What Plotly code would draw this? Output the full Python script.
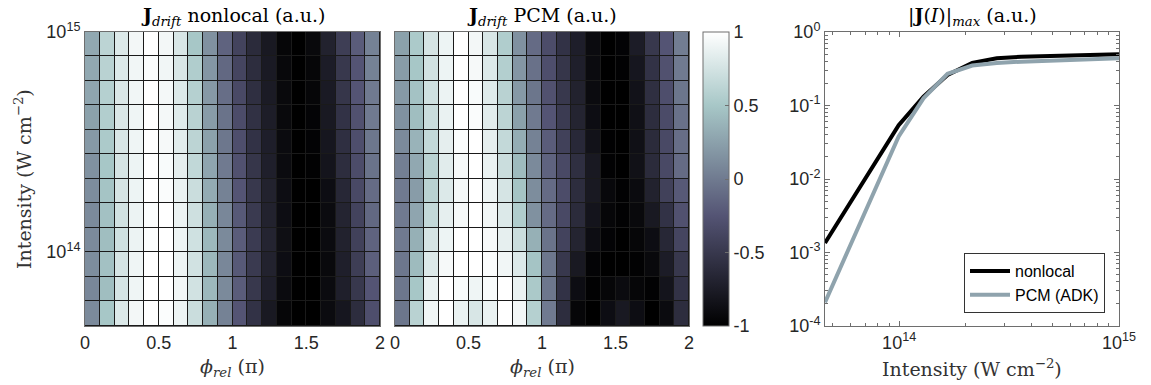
import numpy as np
import plotly.graph_objects as go

# ---------------- data ----------------
# relative phase cell edges (units of pi)
phi_edges = [0.0, 0.1, 0.2, 0.3, 0.4, 0.5, 0.6, 0.7, 0.8, 0.9, 1.0,
             1.1, 1.2, 1.3, 1.4, 1.5, 1.6, 1.7, 1.8, 1.9, 2.0]
# laser intensity grid (W cm^-2)
intensity = [4.6e13, 5.95e13, 7.7e13, 9.95e13, 1.29e14, 1.66e14, 2.15e14,
             2.78e14, 3.59e14, 4.64e14, 6.0e14, 7.75e14, 1.0e15]

# drift current, nonlocal model; rows listed from highest to lowest intensity
j_nonlocal_rows = [
    [0.30, 0.62, 0.80, 0.93, 1.00, 0.93, 0.78, 0.50, 0.15, -0.15, -0.40, -0.62, -0.78, -0.95, -1.00, -0.92, -0.70, -0.45, -0.20, 0.05],
    [0.30, 0.60, 0.80, 0.92, 0.97, 0.92, 0.78, 0.55, 0.18, -0.12, -0.38, -0.60, -0.77, -0.93, -1.00, -0.95, -0.75, -0.50, -0.25, 0.05],
    [0.28, 0.58, 0.79, 0.92, 1.00, 0.94, 0.80, 0.58, 0.20, -0.08, -0.35, -0.58, -0.76, -0.92, -1.00, -0.95, -0.77, -0.52, -0.25, 0.00],
    [0.25, 0.56, 0.79, 0.91, 1.00, 0.94, 0.82, 0.60, 0.22, -0.05, -0.32, -0.56, -0.74, -0.92, -1.00, -0.96, -0.78, -0.55, -0.28, 0.00],
    [0.20, 0.53, 0.78, 0.91, 1.00, 0.95, 0.83, 0.62, 0.25, -0.02, -0.30, -0.55, -0.73, -0.90, -1.00, -0.97, -0.80, -0.58, -0.30, -0.02],
    [0.15, 0.50, 0.76, 0.90, 1.00, 0.96, 0.85, 0.65, 0.28, 0.00, -0.28, -0.52, -0.72, -0.90, -1.00, -0.98, -0.82, -0.60, -0.32, -0.05],
    [0.12, 0.48, 0.76, 0.90, 1.00, 0.97, 0.88, 0.70, 0.32, 0.05, -0.25, -0.50, -0.70, -0.88, -1.00, -1.00, -0.88, -0.65, -0.35, -0.10],
    [0.10, 0.46, 0.74, 0.89, 0.98, 1.00, 0.89, 0.72, 0.35, 0.08, -0.22, -0.48, -0.70, -0.88, -1.00, -1.00, -0.90, -0.68, -0.40, -0.12],
    [0.10, 0.44, 0.73, 0.89, 0.98, 1.00, 0.90, 0.73, 0.40, 0.10, -0.20, -0.47, -0.68, -0.87, -1.00, -1.00, -0.90, -0.70, -0.42, -0.15],
    [0.12, 0.46, 0.76, 0.91, 1.00, 1.00, 0.90, 0.74, 0.40, 0.08, -0.22, -0.48, -0.70, -0.88, -1.00, -1.00, -0.92, -0.72, -0.45, -0.18],
    [0.08, 0.44, 0.76, 0.91, 1.00, 1.00, 0.92, 0.74, 0.40, 0.10, -0.20, -0.50, -0.72, -0.90, -1.00, -1.00, -0.90, -0.72, -0.50, -0.25],
    [0.10, 0.50, 0.80, 0.93, 1.00, 0.98, 0.90, 0.70, 0.35, 0.05, -0.25, -0.55, -0.78, -0.95, -1.00, -1.00, -0.90, -0.80, -0.60, -0.30],
]

# drift current, PCM (ADK rates); rows listed from highest to lowest intensity
j_pcm_rows = [
    [0.25, 0.53, 0.76, 0.90, 1.00, 0.93, 0.78, 0.55, 0.15, -0.10, -0.32, -0.55, -0.73, -0.90, -1.00, -0.97, -0.75, -0.50, -0.25, 0.02],
    [0.22, 0.50, 0.74, 0.90, 1.00, 0.95, 0.80, 0.57, 0.18, -0.06, -0.30, -0.52, -0.72, -0.90, -1.00, -0.98, -0.80, -0.55, -0.28, 0.00],
    [0.20, 0.47, 0.73, 0.89, 1.00, 0.96, 0.82, 0.60, 0.20, -0.03, -0.28, -0.50, -0.70, -0.90, -1.00, -1.00, -0.84, -0.58, -0.30, -0.03],
    [0.15, 0.44, 0.70, 0.88, 1.00, 0.97, 0.83, 0.62, 0.25, 0.00, -0.25, -0.47, -0.68, -0.88, -1.00, -1.00, -0.86, -0.60, -0.33, -0.06],
    [0.10, 0.37, 0.66, 0.85, 0.97, 1.00, 0.85, 0.66, 0.33, 0.05, -0.20, -0.42, -0.64, -0.84, -0.99, -1.00, -0.86, -0.62, -0.35, -0.08],
    [0.03, 0.30, 0.60, 0.83, 0.95, 1.00, 0.88, 0.70, 0.42, 0.10, -0.15, -0.35, -0.58, -0.78, -0.98, -1.00, -0.85, -0.62, -0.35, -0.10],
    [0.00, 0.22, 0.60, 0.80, 0.94, 1.00, 0.90, 0.76, 0.48, 0.12, -0.10, -0.32, -0.60, -0.78, -0.93, -0.98, -0.90, -0.70, -0.42, -0.22],
    [0.00, 0.28, 0.66, 0.86, 0.95, 1.00, 0.92, 0.80, 0.55, 0.15, -0.10, -0.35, -0.62, -0.82, -0.95, -0.98, -0.92, -0.78, -0.55, -0.28],
    [0.00, 0.35, 0.76, 0.90, 1.00, 1.00, 0.95, 0.86, 0.70, 0.35, -0.05, -0.40, -0.68, -0.88, -0.97, -1.00, -0.95, -0.88, -0.65, -0.38],
    [-0.02, 0.42, 0.80, 0.95, 1.00, 1.00, 0.97, 0.92, 0.80, 0.48, -0.02, -0.50, -0.78, -0.96, -1.00, -1.00, -0.98, -0.92, -0.75, -0.50],
    [-0.02, 0.50, 0.88, 1.00, 0.96, 0.91, 0.96, 1.00, 0.88, 0.52, -0.02, -0.55, -0.88, -0.98, -0.95, -0.90, -0.95, -0.98, -0.82, -0.55],
    [-0.03, 0.60, 0.92, 1.00, 0.88, 0.78, 0.88, 1.00, 0.93, 0.58, 0.00, -0.60, -0.95, -1.00, -0.88, -0.78, -0.88, -1.00, -0.90, -0.60],
]

# peak current magnitude versus intensity
jmax_nonlocal = [1.35e-3, 4.6e-3, 1.6e-2, 5.4e-2, 1.32e-1, 2.6e-1, 3.8e-1,
                 4.4e-1, 4.6e-1, 4.7e-1, 4.8e-1, 4.9e-1, 5.0e-1]
jmax_pcm = [2.1e-4, 1.2e-3, 7.0e-3, 3.8e-2, 1.25e-1, 2.7e-1, 3.5e-1,
            3.8e-1, 3.95e-1, 4.05e-1, 4.15e-1, 4.25e-1, 4.4e-1]

# ---------------- styling ----------------
W, H = 1151, 385
SANS = "Liberation Sans, Arial, sans-serif"
SERIF = "DejaVu Serif, serif"
TXT = "#262626"
AX = "#6e6e6e"

# MATLAB-style "bone" colormap
bone = [[0.0, "rgb(0,0,0)"],
        [0.375, "rgb(84,84,116)"],
        [0.75, "rgb(167,199,199)"],
        [1.0, "rgb(255,255,255)"]]


def px_x(a, b):
    return [a / W, b / W]


def px_y(top, bottom):
    return [1 - bottom / H, 1 - top / H]


ydom = px_y(32, 326)
i_lo, i_hi = np.log10(intensity[0]), np.log10(intensity[-1])

fig = go.Figure()

fig.add_trace(go.Heatmap(x=phi_edges, y=intensity, z=j_nonlocal_rows[::-1],
                         coloraxis="coloraxis", xgap=1, ygap=1,
                         xaxis="x", yaxis="y", hoverinfo="skip"))
fig.add_trace(go.Heatmap(x=phi_edges, y=intensity, z=j_pcm_rows[::-1],
                         coloraxis="coloraxis", xgap=1, ygap=1,
                         xaxis="x2", yaxis="y2", hoverinfo="skip"))

fig.add_trace(go.Scatter(x=intensity, y=jmax_nonlocal, mode="lines",
                         name="nonlocal", line=dict(color="black", width=4),
                         xaxis="x3", yaxis="y3"))
fig.add_trace(go.Scatter(x=intensity, y=jmax_pcm, mode="lines",
                         name="PCM (ADK)", line=dict(color="rgb(143,163,173)", width=4),
                         xaxis="x3", yaxis="y3"))

TICKFONT = dict(family=SANS, size=18, color=TXT)
phi_ticks = dict(tickvals=[0, 0.5, 1, 1.5, 2], ticktext=["0", "0.5", "1", "1.5", "2"])
heat_x = dict(range=[0, 2], ticks="", showline=True, mirror=True, linecolor=AX,
              linewidth=1, showgrid=False, zeroline=False, automargin=False,
              tickfont=TICKFONT, **phi_ticks)
heat_y = dict(type="log", range=[i_lo, i_hi], ticks="", showline=True, mirror=True,
              linecolor=AX, linewidth=1, showgrid=False, zeroline=False,
              automargin=False,
              tickvals=[1e14, 1e15], ticktext=["10<sup>14</sup>", "10<sup>15</sup>"],
              tickfont=TICKFONT)

dec_minor_y = [m * 10.0 ** e for e in range(-4, 0) for m in range(2, 10)]
dec_minor_x = [m * 10.0 ** e for e in (13, 14) for m in range(2, 10)]

fig.update_layout(
    width=W, height=H,
    margin=dict(l=0, r=0, t=0, b=0, autoexpand=False),
    paper_bgcolor="white", plot_bgcolor="white",
    showlegend=True,
    xaxis=dict(domain=px_x(85, 380), anchor="y", **heat_x),
    yaxis=dict(domain=ydom, anchor="x", **heat_y),
    xaxis2=dict(domain=px_x(395, 689), anchor="y2", **heat_x),
    yaxis2=dict(domain=ydom, anchor="x2", **{**heat_y, "showticklabels": False}),
    xaxis3=dict(domain=px_x(825, 1119), anchor="y3", type="log",
                range=[i_lo, i_hi], tickvals=[1e14, 1e15],
                ticktext=["10<sup>14</sup>", "10<sup>15</sup>"],
                ticks="inside", ticklen=5, tickcolor=AX, showline=True,
                mirror="allticks", linecolor=AX, linewidth=1, showgrid=False,
                zeroline=False, automargin=False, tickfont=TICKFONT,
                minor=dict(tickmode="array", tickvals=dec_minor_x, ticks="inside",
                           ticklen=3, tickcolor=AX, showgrid=False)),
    yaxis3=dict(domain=ydom, anchor="x3", type="log", range=[-4, 0],
                tickvals=[1e-4, 1e-3, 1e-2, 1e-1, 1],
                ticktext=["10<sup>-4</sup>", "10<sup>-3</sup>", "10<sup>-2</sup>",
                          "10<sup>-1</sup>", "10<sup>0</sup>"],
                ticks="inside", ticklen=5, tickcolor=AX, showline=True,
                mirror="allticks", linecolor=AX, linewidth=1, showgrid=False,
                zeroline=False, automargin=False, tickfont=TICKFONT,
                minor=dict(tickmode="array", tickvals=dec_minor_y, ticks="inside",
                           ticklen=3, tickcolor=AX, showgrid=False)),
    coloraxis=dict(
        colorscale=bone, cmin=-1, cmax=1,
        colorbar=dict(x=703 / W, xanchor="left", xpad=0, ypad=0,
                      y=1 - 179 / H, yanchor="middle",
                      thickness=26, thicknessmode="pixels",
                      len=294, lenmode="pixels",
                      outlinecolor=AX, outlinewidth=1,
                      ticks="inside", ticklen=4, tickcolor=AX,
                      tickvals=[-1, -0.5, 0, 0.5, 1],
                      ticktext=["-1", "-0.5", "0", "0.5", "1"],
                      tickfont=TICKFONT),
    ),
    legend=dict(x=1105 / W, xanchor="right", y=1 - 313 / H, yanchor="bottom",
                bgcolor="white", bordercolor="#333333", borderwidth=1,
                font=dict(family=SANS, size=16, color="black"),
                itemwidth=40, tracegroupgap=0),
)

# dark cell edges: black backdrop visible through the heatmap gaps
for xr, yr in (("x", "y"), ("x2", "y2")):
    fig.add_shape(type="rect", xref=f"{xr} domain", yref=f"{yr} domain",
                  x0=0, x1=1, y0=0, y1=1, layer="below",
                  fillcolor="#1a1a1a", line=dict(width=0))

title_font = dict(family=SERIF, size=19, color="black")
label_font = dict(family=SERIF, size=19, color="#333333")
phi_label = "<i>ϕ</i><sub><i>rel</i></sub> (π)"
annots = [
    dict(x=232.5, y=16, text="<b>J</b><sub><i>drift</i></sub> nonlocal (a.u.)", font=title_font),
    dict(x=542, y=16, text="<b>J</b><sub><i>drift</i></sub> PCM (a.u.)", font=title_font),
    dict(x=972, y=16, text="|<b>J</b>(<i>I</i>)|<sub><i>max</i></sub> (a.u.)", font=title_font),
    dict(x=232.5, y=367, text=phi_label, font=label_font),
    dict(x=542, y=367, text=phi_label, font=label_font),
    dict(x=972, y=368, text="Intensity (W cm<sup>−2</sup>)", font=label_font),
    dict(x=23, y=179, text="Intensity (W cm<sup>−2</sup>)", font=label_font, textangle=-90),
]
for a in annots:
    fig.add_annotation(x=a["x"] / W, y=1 - a["y"] / H, xref="paper", yref="paper",
                       text=a["text"], font=a["font"], showarrow=False,
                       xanchor="center", yanchor="middle",
                       textangle=a.get("textangle", 0))

fig.write_html("out.html")
